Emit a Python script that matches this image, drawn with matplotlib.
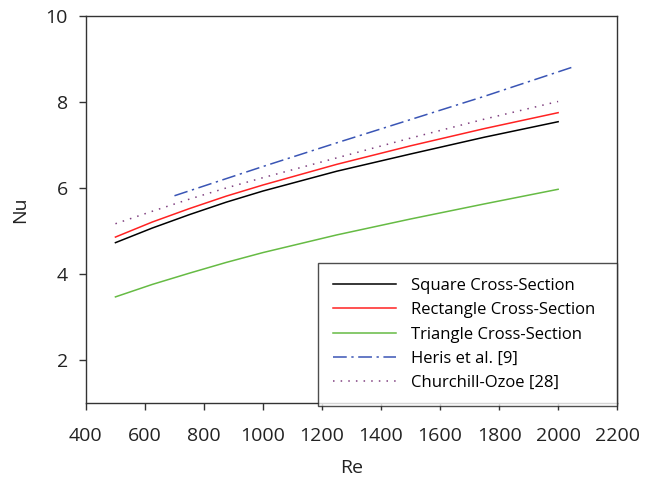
import matplotlib
matplotlib.use("Agg")
import matplotlib.pyplot as plt

plt.rcParams['font.family'] = ['Open Sans', 'DejaVu Sans']

# Nusselt number vs Reynolds number
re_sim = [500, 625, 750, 875, 1000, 1250, 1500, 1750, 2000]
nu_square = [4.73, 5.07, 5.38, 5.67, 5.93, 6.39, 6.79, 7.18, 7.54]
nu_rect = [4.86, 5.21, 5.52, 5.81, 6.07, 6.55, 6.98, 7.38, 7.75]
nu_tri = [3.47, 3.76, 4.02, 4.27, 4.50, 4.91, 5.28, 5.63, 5.97]

re_heris = [700, 1000, 1250, 1500, 1750, 2045]
nu_heris = [5.82, 6.50, 7.05, 7.59, 8.13, 8.80]

re_church = [500, 625, 750, 875, 1000, 1250, 1500, 1750, 2000]
nu_church = [5.17, 5.46, 5.74, 6.00, 6.24, 6.70, 7.16, 7.60, 8.01]

fig = plt.figure(figsize=(6.51, 4.80), dpi=100)
ax = fig.add_axes([0.132, 0.160, 0.816, 0.807])

ax.plot(re_sim, nu_square, color='black', lw=1.1, label='Square Cross-Section')
ax.plot(re_sim, nu_rect, color='#ff2222', lw=1.1, label='Rectangle Cross-Section')
ax.plot(re_sim, nu_tri, color='#66bb44', lw=1.1, label='Triangle Cross-Section')
ax.plot(re_heris, nu_heris, color='#3a55b5', lw=1.1, linestyle=(0, (9, 3, 1.5, 3)),
        label='Heris et al. [9]')
ax.plot(re_church, nu_church, color='#804080', lw=1.1, linestyle=(0, (1, 4)),
        label='Churchill-Ozoe [28]')

ax.set_xlim(400, 2200)
ax.set_ylim(1, 10)
ax.set_xticks(range(400, 2201, 200))
ax.set_yticks([2, 4, 6, 8, 10])
ax.tick_params(direction='out', length=5, width=1, labelsize=14, colors='#333333',
               labelcolor='#222222', top=False, right=False)
ax.tick_params(axis='x', pad=12)
ax.tick_params(axis='y', pad=8)
for s in ax.spines.values():
    s.set_color('#333333')
    s.set_linewidth(1.0)

ax.set_xlabel('Re', fontsize=14, labelpad=10, color='#222222')
ax.set_ylabel('Nu', fontsize=14, labelpad=12, color='#222222')

leg = ax.legend(loc='lower left', bbox_to_anchor=(0.437, -0.008, 0.563, 0.37),
                mode='expand', fontsize=12, frameon=True, fancybox=False,
                edgecolor='#222222', handlelength=3.8, handletextpad=0.9,
                labelspacing=0.5, borderpad=0.9, borderaxespad=0)
leg.get_frame().set_linewidth(1.0)

fig.savefig('out.png', dpi=100)
